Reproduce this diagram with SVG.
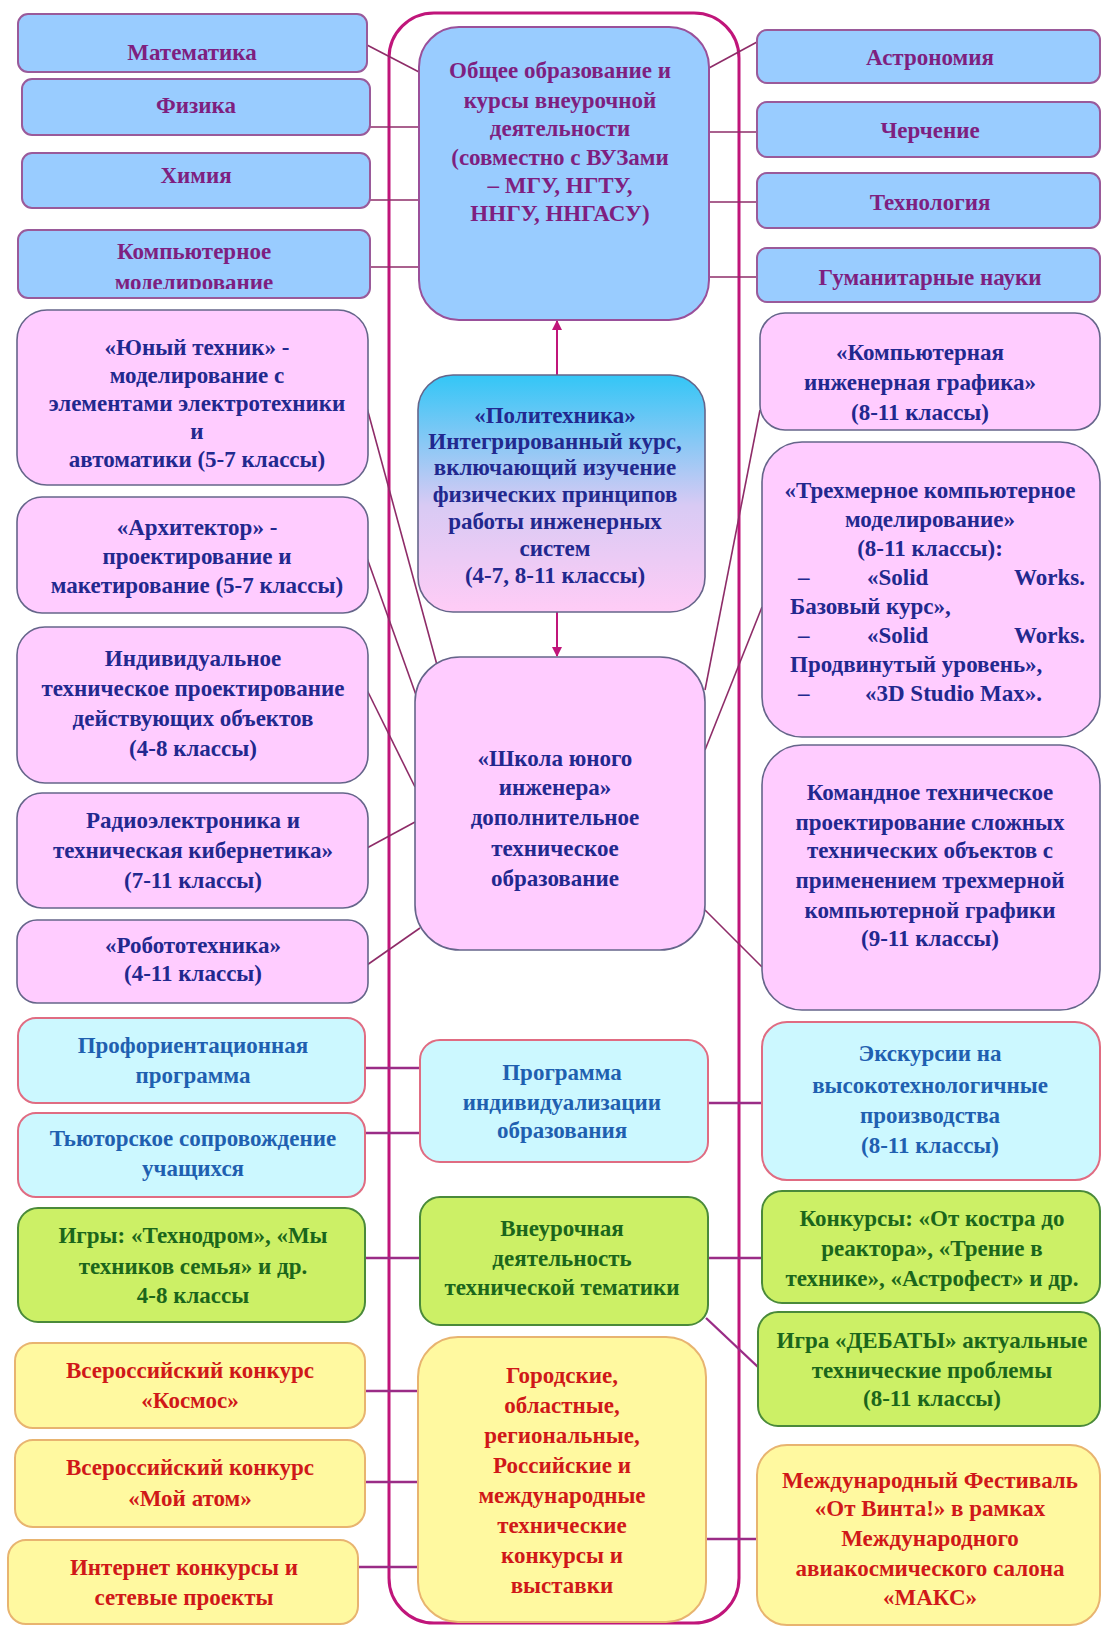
<svg xmlns="http://www.w3.org/2000/svg" width="1101" height="1627" viewBox="0 0 1101 1627">
<defs>
<style>
text{font-family:"Liberation Serif","Times New Roman",serif;font-weight:bold;font-size:23px;text-anchor:middle}
.blue{fill:#99CCFF;stroke:#9A5A9A;stroke-width:2}
.bt{fill:#7E1F80}
.pink{fill:#FFCCFF;stroke:#65658A;stroke-width:1.6}
.pt{fill:#22288E}
.cyan{fill:#CCF8FF;stroke:#E06C82;stroke-width:2}
.ct{fill:#1F60B0}
.green{fill:#CCF066;stroke:#4A8A3A;stroke-width:2}
.gt{fill:#1B661B}
.yellow{fill:#FFF9A0;stroke:#E8B470;stroke-width:2}
.yt{fill:#D01818}
.frame{fill:none;stroke:#C0157A;stroke-width:3}
.ln{fill:none;stroke:#8E2C68;stroke-width:1.6}
.lb{fill:none;stroke:#9A2C86;stroke-width:2.4}
.arr{fill:none;stroke:#C0157A;stroke-width:2}
.l{text-anchor:start}
.r{text-anchor:end}
</style>
<linearGradient id="gpol" x1="0" y1="0" x2="0" y2="1">
<stop offset="0" stop-color="#33C6F6"/>
<stop offset="0.55" stop-color="#D8CAF4"/>
<stop offset="1" stop-color="#FFCCF6"/>
</linearGradient>
<marker id="ah" viewBox="0 0 10 10" refX="9" refY="5" markerWidth="5" markerHeight="5" orient="auto-start-reverse">
<path d="M0,0 L10,5 L0,10 z" fill="#C0157A"/>
</marker>
<clipPath id="clipKM"><rect x="18" y="230" width="352" height="59"/></clipPath>
</defs>

<rect x="0" y="0" width="1101" height="1627" fill="#FFFFFF"/>

<rect class="frame" x="389" y="13" width="350" height="1610" rx="45"/>

<g id="connectors">
<line class="ln" x1="367" y1="45" x2="419" y2="72"/>
<line class="ln" x1="370" y1="127" x2="419" y2="127"/>
<line class="ln" x1="370" y1="200" x2="419" y2="200"/>
<line class="ln" x1="370" y1="267" x2="419" y2="267"/>
<line class="ln" x1="709" y1="68" x2="757" y2="42"/>
<line class="ln" x1="709" y1="132" x2="757" y2="132"/>
<line class="ln" x1="709" y1="202" x2="757" y2="202"/>
<line class="ln" x1="709" y1="277" x2="757" y2="277"/>
<line class="arr" x1="557" y1="375" x2="557" y2="321" marker-end="url(#ah)"/>
<line class="arr" x1="557" y1="612" x2="557" y2="656" marker-end="url(#ah)"/>
<line class="ln" x1="367" y1="408" x2="437" y2="665"/>
<line class="ln" x1="367" y1="558" x2="416" y2="695"/>
<line class="ln" x1="367" y1="690" x2="415" y2="787"/>
<line class="ln" x1="367" y1="848" x2="415" y2="822"/>
<line class="ln" x1="367" y1="965" x2="420" y2="928"/>
<line class="ln" x1="760" y1="410" x2="705" y2="690"/>
<line class="ln" x1="762" y1="607" x2="705" y2="750"/>
<line class="ln" x1="705" y1="910" x2="762" y2="967"/>
<line class="lb" x1="365" y1="1068" x2="420" y2="1068"/>
<line class="lb" x1="365" y1="1133" x2="420" y2="1133"/>
<line class="lb" x1="708" y1="1103" x2="762" y2="1103"/>
<line class="lb" x1="365" y1="1258" x2="420" y2="1258"/>
<line class="lb" x1="708" y1="1258" x2="762" y2="1258"/>
<line class="lb" x1="706" y1="1318" x2="758" y2="1367"/>
<line class="lb" x1="365" y1="1391" x2="418" y2="1391"/>
<line class="lb" x1="365" y1="1482" x2="418" y2="1482"/>
<line class="lb" x1="358" y1="1567" x2="418" y2="1567"/>
<line class="lb" x1="706" y1="1539" x2="757" y2="1539"/>
</g>

<g id="n-math"><rect class="blue" x="18" y="14" width="349" height="58" rx="10"/><text class="bt" x="192" y="60">Математика</text></g>
<g id="n-phys"><rect class="blue" x="22" y="79" width="348" height="56" rx="10"/><text class="bt" x="196" y="113">Физика</text></g>
<g id="n-chem"><rect class="blue" x="22" y="153" width="348" height="55" rx="10"/><text class="bt" x="196" y="183">Химия</text></g>
<g id="n-km"><rect class="blue" x="18" y="230" width="352" height="68" rx="10"/><text class="bt" x="194" y="259">Компьютерное</text><text class="bt" x="194" y="290" clip-path="url(#clipKM)">моделирование</text></g>

<g id="n-yt"><rect class="pink" x="17" y="310" width="351" height="175" rx="30"/>
<text class="pt" x="197" y="355">«Юный техник» -</text>
<text class="pt" x="197" y="383">моделирование с</text>
<text class="pt" x="197" y="411">элементами электротехники</text>
<text class="pt" x="197" y="439">и</text>
<text class="pt" x="197" y="467">автоматики (5-7 классы)</text></g>
<g id="n-arch"><rect class="pink" x="17" y="497" width="351" height="116" rx="25"/>
<text class="pt" x="197" y="535">«Архитектор» -</text>
<text class="pt" x="197" y="564">проектирование и</text>
<text class="pt" x="197" y="593">макетирование (5-7 классы)</text></g>
<g id="n-ind"><rect class="pink" x="17" y="627" width="351" height="156" rx="28"/>
<text class="pt" x="193" y="666">Индивидуальное</text>
<text class="pt" x="193" y="696">техническое проектирование</text>
<text class="pt" x="193" y="726">действующих объектов</text>
<text class="pt" x="193" y="756">(4-8 классы)</text></g>
<g id="n-radio"><rect class="pink" x="17" y="793" width="351" height="115" rx="25"/>
<text class="pt" x="193" y="828">Радиоэлектроника и</text>
<text class="pt" x="193" y="858">техническая кибернетика»</text>
<text class="pt" x="193" y="888">(7-11 классы)</text></g>
<g id="n-robo"><rect class="pink" x="17" y="920" width="351" height="83" rx="20"/>
<text class="pt" x="193" y="953">«Робототехника»</text>
<text class="pt" x="193" y="981">(4-11 классы)</text></g>

<g id="n-prof"><rect class="cyan" x="18" y="1018" width="347" height="85" rx="18"/>
<text class="ct" x="193" y="1053">Профориентационная</text>
<text class="ct" x="193" y="1083">программа</text></g>
<g id="n-tut"><rect class="cyan" x="18" y="1113" width="347" height="84" rx="18"/>
<text class="ct" x="193" y="1146">Тьюторское сопровождение</text>
<text class="ct" x="193" y="1176">учащихся</text></g>
<g id="n-games"><rect class="green" x="18" y="1208" width="347" height="114" rx="20"/>
<text class="gt" x="193" y="1243">Игры: «Технодром», «Мы</text>
<text class="gt" x="193" y="1274">техников семья» и др.</text>
<text class="gt" x="193" y="1303">4-8 классы</text></g>
<g id="n-kosmos"><rect class="yellow" x="15" y="1343" width="350" height="85" rx="18"/>
<text class="yt" x="190" y="1378">Всероссийский конкурс</text>
<text class="yt" x="190" y="1408">«Космос»</text></g>
<g id="n-atom"><rect class="yellow" x="15" y="1440" width="350" height="87" rx="18"/>
<text class="yt" x="190" y="1475">Всероссийский конкурс</text>
<text class="yt" x="190" y="1506">«Мой атом»</text></g>
<g id="n-inet"><rect class="yellow" x="8" y="1540" width="350" height="84" rx="18"/>
<text class="yt" x="184" y="1575">Интернет конкурсы и</text>
<text class="yt" x="184" y="1605">сетевые проекты</text></g>

<g id="n-obsh"><rect x="419" y="27" width="290" height="293" rx="40" fill="#99CCFF" stroke="#9A509A" stroke-width="2"/>
<text class="bt" x="560" y="78">Общее образование и</text>
<text class="bt" x="560" y="108">курсы внеурочной</text>
<text class="bt" x="560" y="136">деятельности</text>
<text class="bt" x="560" y="165">(совместно с ВУЗами</text>
<text class="bt" x="560" y="193">– МГУ, НГТУ,</text>
<text class="bt" x="560" y="221">ННГУ, ННГАСУ)</text></g>
<g id="n-poly"><rect x="418" y="375" width="287" height="237" rx="35" fill="url(#gpol)" stroke="#65658A" stroke-width="1.6"/>
<text class="pt" x="555" y="423">«Политехника»</text>
<text class="pt" x="555" y="449">Интегрированный курс,</text>
<text class="pt" x="555" y="475">включающий изучение</text>
<text class="pt" x="555" y="502">физических принципов</text>
<text class="pt" x="555" y="529">работы инженерных</text>
<text class="pt" x="555" y="556">систем</text>
<text class="pt" x="555" y="583">(4-7, 8-11 классы)</text></g>
<g id="n-school"><rect class="pink" x="415" y="657" width="290" height="293" rx="45"/>
<text class="pt" x="555" y="766">«Школа юного</text>
<text class="pt" x="555" y="795">инженера»</text>
<text class="pt" x="555" y="825">дополнительное</text>
<text class="pt" x="555" y="856">техническое</text>
<text class="pt" x="555" y="886">образование</text></g>
<g id="n-prog"><rect class="cyan" x="420" y="1040" width="288" height="122" rx="20"/>
<text class="ct" x="562" y="1080">Программа</text>
<text class="ct" x="562" y="1110">индивидуализации</text>
<text class="ct" x="562" y="1138">образования</text></g>
<g id="n-vneur"><rect class="green" x="420" y="1197" width="288" height="128" rx="20"/>
<text class="gt" x="562" y="1236">Внеурочная</text>
<text class="gt" x="562" y="1266">деятельность</text>
<text class="gt" x="562" y="1295">технической тематики</text></g>
<g id="n-city"><rect class="yellow" x="418" y="1337" width="288" height="285" rx="40"/>
<text class="yt" x="562" y="1383">Городские,</text>
<text class="yt" x="562" y="1413">областные,</text>
<text class="yt" x="562" y="1443">региональные,</text>
<text class="yt" x="562" y="1473">Российские и</text>
<text class="yt" x="562" y="1503">международные</text>
<text class="yt" x="562" y="1533">технические</text>
<text class="yt" x="562" y="1563">конкурсы и</text>
<text class="yt" x="562" y="1593">выставки</text></g>

<g id="n-astro"><rect class="blue" x="757" y="30" width="343" height="53" rx="10"/><text class="bt" x="930" y="65">Астрономия</text></g>
<g id="n-cherch"><rect class="blue" x="757" y="102" width="343" height="55" rx="10"/><text class="bt" x="930" y="138">Черчение</text></g>
<g id="n-tech"><rect class="blue" x="757" y="173" width="343" height="55" rx="10"/><text class="bt" x="930" y="210">Технология</text></g>
<g id="n-hum"><rect class="blue" x="757" y="248" width="343" height="54" rx="10"/><text class="bt" x="930" y="285">Гуманитарные науки</text></g>

<g id="n-kig"><rect class="pink" x="760" y="313" width="340" height="117" rx="25"/>
<text class="pt" x="920" y="360">«Компьютерная</text>
<text class="pt" x="920" y="390">инженерная графика»</text>
<text class="pt" x="920" y="420">(8-11 классы)</text></g>
<g id="n-3d"><rect class="pink" x="762" y="442" width="338" height="295" rx="40"/>
<text class="pt" x="930" y="498">«Трехмерное компьютерное</text>
<text class="pt" x="930" y="527">моделирование»</text>
<text class="pt" x="930" y="556">(8-11 классы):</text>
<text class="pt l" x="798" y="585">–</text><text class="pt l" x="867" y="585">«Solid</text><text class="pt r" x="1085" y="585">Works.</text>
<text class="pt l" x="790" y="614">Базовый курс»,</text>
<text class="pt l" x="798" y="643">–</text><text class="pt l" x="867" y="643">«Solid</text><text class="pt r" x="1085" y="643">Works.</text>
<text class="pt l" x="790" y="672">Продвинутый уровень»,</text>
<text class="pt l" x="798" y="701">–</text><text class="pt l" x="865" y="701">«3D Studio Max».</text></g>
<g id="n-team"><rect class="pink" x="762" y="745" width="338" height="265" rx="40"/>
<text class="pt" x="930" y="800">Командное техническое</text>
<text class="pt" x="930" y="830">проектирование сложных</text>
<text class="pt" x="930" y="858">технических объектов с</text>
<text class="pt" x="930" y="888">применением трехмерной</text>
<text class="pt" x="930" y="918">компьютерной графики</text>
<text class="pt" x="930" y="946">(9-11 классы)</text></g>
<g id="n-exc"><rect class="cyan" x="762" y="1022" width="338" height="158" rx="25"/>
<text class="ct" x="930" y="1061">Экскурсии на</text>
<text class="ct" x="930" y="1093">высокотехнологичные</text>
<text class="ct" x="930" y="1123">производства</text>
<text class="ct" x="930" y="1153">(8-11 классы)</text></g>
<g id="n-konk"><rect class="green" x="762" y="1191" width="338" height="112" rx="20"/>
<text class="gt" x="932" y="1226">Конкурсы: «От костра до</text>
<text class="gt" x="932" y="1256">реактора», «Трение в</text>
<text class="gt" x="932" y="1286">технике», «Астрофест» и др.</text></g>
<g id="n-deb"><rect class="green" x="758" y="1312" width="342" height="114" rx="20"/>
<text class="gt" x="932" y="1348">Игра «ДЕБАТЫ» актуальные</text>
<text class="gt" x="932" y="1378">технические проблемы</text>
<text class="gt" x="932" y="1406">(8-11 классы)</text></g>
<g id="n-maks"><rect class="yellow" x="757" y="1445" width="343" height="180" rx="30"/>
<text class="yt" x="930" y="1488">Международный Фестиваль</text>
<text class="yt" x="930" y="1516">«От Винта!» в рамках</text>
<text class="yt" x="930" y="1546">Международного</text>
<text class="yt" x="930" y="1576">авиакосмического салона</text>
<text class="yt" x="930" y="1605">«МАКС»</text></g>
</svg>
